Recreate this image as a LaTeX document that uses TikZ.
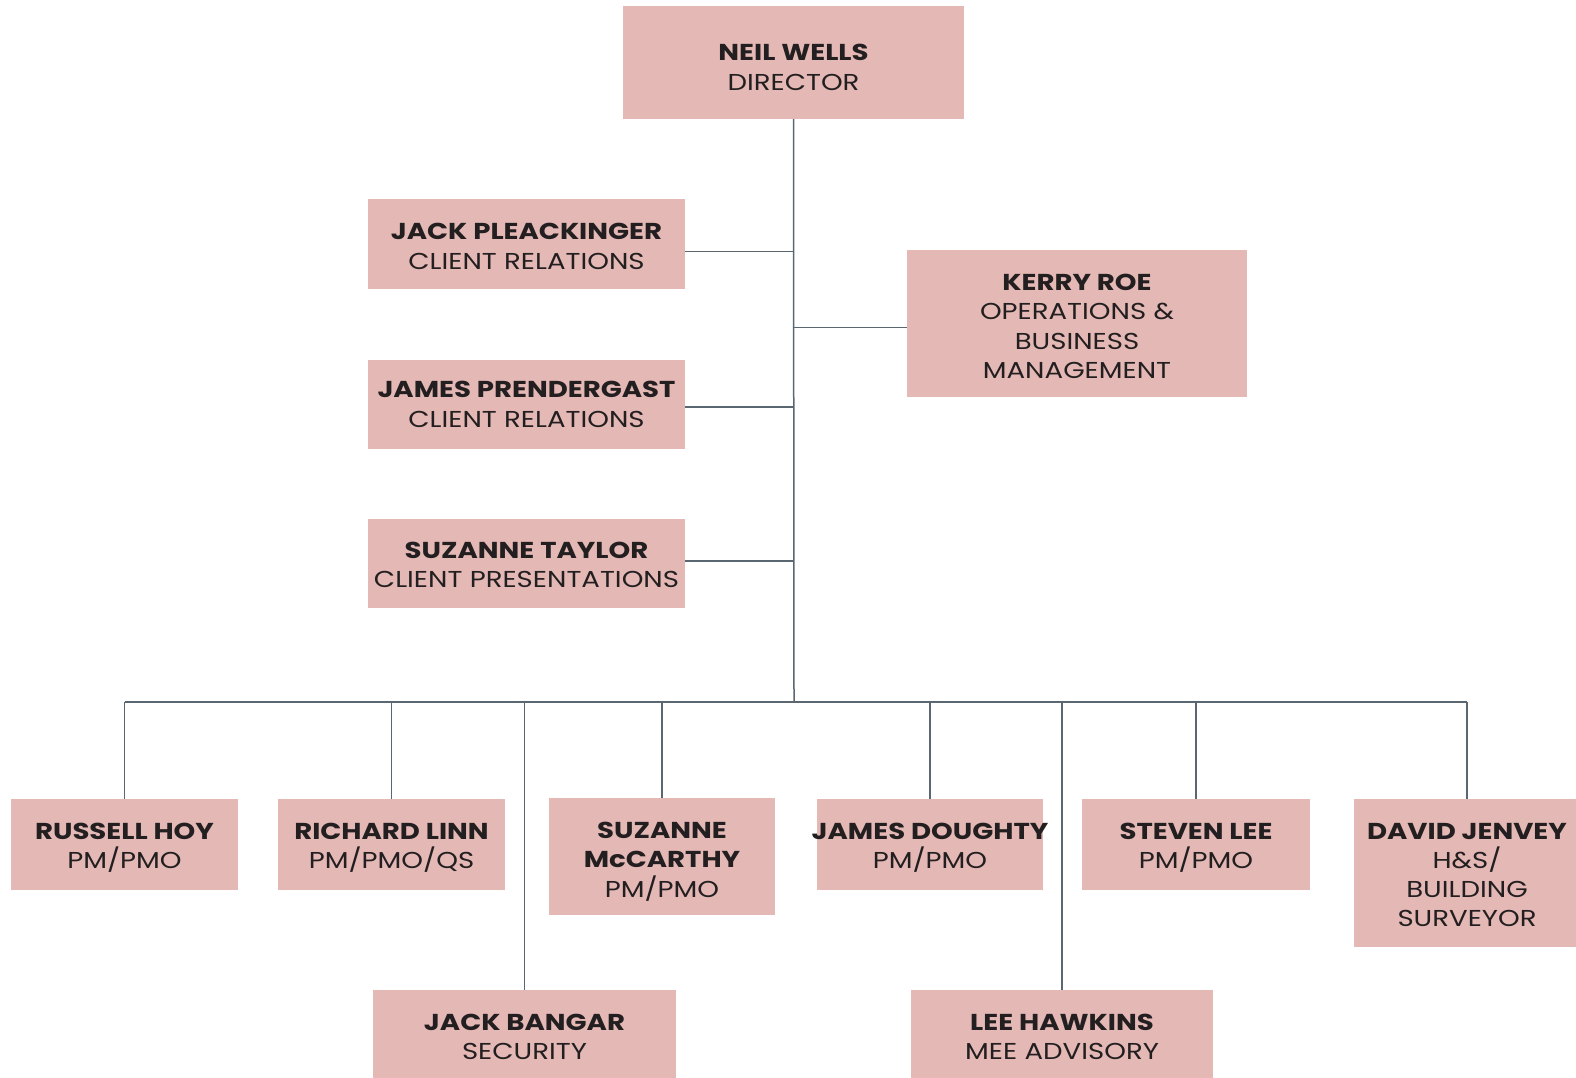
\documentclass[tikz,border=0pt]{standalone}
\usepackage{fontspec}
\setmainfont{Poppins}[FakeStretch=1.2]
\definecolor{boxfill}{HTML}{E4B8B5}
\definecolor{linec}{HTML}{5B6770}
\definecolor{txt}{HTML}{231F20}
\begin{document}
\begin{tikzpicture}[x=1pt,y=-1pt,
  person/.style={fill=boxfill,draw=none,inner sep=0pt},
  lbl/.style={inner sep=0pt,align=center,text=txt,
    font=\fontsize{23}{29.3}\selectfont},
  link/.style={draw=linec,line width=1.5pt}]
\useasboundingbox (0,0) rectangle (1576,1077);
\newcommand{\nm}[1]{\textbf{#1}}
\node[person,minimum width=341pt,minimum height=113pt,
  label={[lbl,yshift=-5pt]center:{\nm{NEIL WELLS}\\DIRECTOR}}] (neil) at (793.5,62.5) {};
\node[person,minimum width=317pt,minimum height=90pt,
  label={[lbl,yshift=-2.5pt]center:{\nm{JACK PLEACKINGER}\\CLIENT RELATIONS}}] (jack) at (526.5,244) {};
\node[person,minimum width=317pt,minimum height=89pt,
  label={[lbl,yshift=0pt]center:{\nm{JAMES PRENDERGAST}\\CLIENT RELATIONS}}] (jamesp) at (526.5,404.5) {};
\node[person,minimum width=317pt,minimum height=89pt,
  label={[lbl,yshift=-1.5pt]center:{\nm{SUZANNE TAYLOR}\\CLIENT PRESENTATIONS}}] (suzt) at (526.5,563.5) {};
\node[person,minimum width=340pt,minimum height=147pt,
  label={[lbl,yshift=-3pt]center:{\nm{KERRY ROE}\\OPERATIONS \&\\BUSINESS\\MANAGEMENT}}] (kerry) at (1077,323.5) {};
\node[person,minimum width=227pt,minimum height=91pt,
  label={[lbl,yshift=-3pt]center:{\nm{RUSSELL HOY}\\PM/PMO}}] (russell) at (124.5,844.5) {};
\node[person,minimum width=227pt,minimum height=91pt,
  label={[lbl,yshift=-3pt]center:{\nm{RICHARD LINN}\\PM/PMO/QS}}] (richard) at (391.5,844.5) {};
\node[person,minimum width=226pt,minimum height=117pt,
  label={[lbl,yshift=-5pt]center:{\nm{SUZANNE}\\\nm{McCARTHY}\\PM/PMO}}] (mcc) at (662,856.5) {};
\node[person,minimum width=226pt,minimum height=91pt,
  label={[lbl,yshift=-3pt]center:{\nm{JAMES DOUGHTY}\\PM/PMO}}] (doughty) at (930,844.5) {};
\node[person,minimum width=228pt,minimum height=91pt,
  label={[lbl,yshift=-3pt]center:{\nm{STEVEN LEE}\\PM/PMO}}] (steven) at (1196,844.5) {};
\node[person,minimum width=227pt,minimum height=148pt,
  label={[lbl,yshift=-2pt]center:{\nm{DAVID JENVEY}\\H\&S/\\BUILDING\\SURVEYOR}}] (david) at (1467,873) {};
\node[person,minimum width=303pt,minimum height=90pt,
  label={[lbl,yshift=-2pt]center:{\nm{JACK BANGAR}\\SECURITY}}] (bangar) at (524.5,1035) {};
\node[person,minimum width=302pt,minimum height=90pt,
  label={[lbl,yshift=-2pt]center:{\nm{LEE HAWKINS}\\MEE ADVISORY}}] (lee) at (1062,1035) {};
\coordinate (bus) at (794,702);
% trunk
\draw[link] (neil.south) -- (bus);
\draw[link] ([yshift=-7.5pt]jack.east) -- ([yshift=-7.5pt]jack.east -| neil.south);
\draw[link] ([yshift=-2.5pt]jamesp.east) -- ([yshift=-2.5pt]jamesp.east -| neil.south);
\draw[link] ([yshift=2.5pt]suzt.east) -- ([yshift=2.5pt]suzt.east -| neil.south);
\draw[link] ([yshift=-4pt]kerry.west) -- ([yshift=-4pt]kerry.west -| neil.south);
% bus
\draw[link] (russell.north |- bus) -- (david.north |- bus);
\foreach \c in {russell,richard,mcc,doughty,steven,david,bangar,lee}
  \draw[link] (\c.north) -- (\c.north |- bus);
\end{tikzpicture}
\end{document}
